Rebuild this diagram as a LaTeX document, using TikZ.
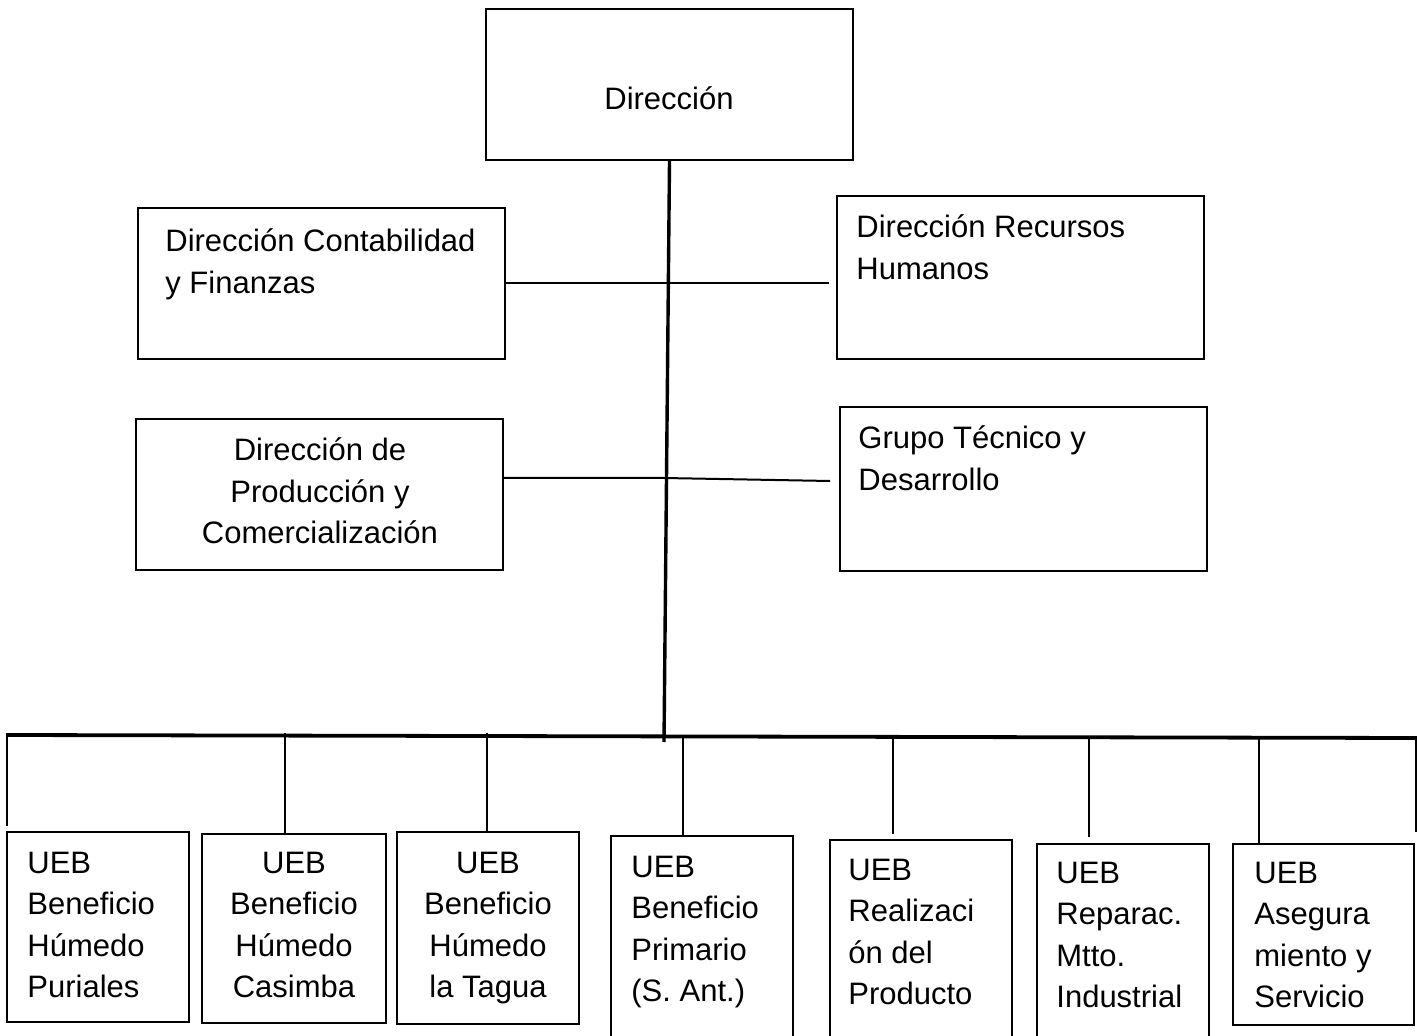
\documentclass[tikz,border=0pt]{standalone}
\usepackage{fontspec}
\setmainfont{Liberation Sans}
\usetikzlibrary{fit}
\begin{document}
\begin{tikzpicture}[x=0.5pt,y=-0.5pt,
  box/.style={draw, line width=1pt, inner sep=0pt},
  txt/.style={inner sep=0pt, font=\fontsize{15.5}{20.75}\selectfont},
  conn/.style={line width=1pt},
  trunkline/.style={line width=1.7pt},
  busline/.style={line width=1.9pt}]
\clip (0,0) rectangle (1417,1036);
% boxes
\node[box, fit={(486,9) (853,160)}] (dir) {};
\node[box, fit={(138,208) (505,359)}] (cont) {};
\node[box, fit={(837,196) (1204,359)}] (rec) {};
\node[box, fit={(136,419) (503,570)}] (prod) {};
\node[box, fit={(840,407) (1207,571)}] (grp) {};
\node[box, fit={(7,832) (189,1022)}] (u1) {};
\node[box, fit={(202,834) (386,1023)}] (u2) {};
\node[box, fit={(397,832) (579,1024)}] (u3) {};
\node[box, fit={(611,836) (793,1060)}] (u4) {};
\node[box, fit={(830,840) (1012,1060)}] (u5) {};
\node[box, fit={(1037,844) (1209,1060)}] (u6) {};
\node[box, fit={(1233,844) (1414,1025)}] (u7) {};
% texts
\node[txt, anchor=base] (tdir) at (669,110) {Dirección};
\node[txt, anchor=base west] (tcont) at (165,252) {\parbox[t]{170pt}{Dirección Contabilidad\\y Finanzas}};
\node[txt, anchor=base west] (trec) at (856,238) {\parbox[t]{170pt}{Dirección Recursos\\Humanos}};
\node[txt, anchor=base] (tprod) at (320,461) {\parbox[t]{180pt}{\centering Dirección de\\Producción y\\Comercialización}};
\node[txt, anchor=base west] (tgrp) at (858,449) {\parbox[t]{170pt}{Grupo Técnico y\\Desarrollo}};
\node[txt, anchor=base west] (tu1) at (27,873) {\parbox[t]{80pt}{UEB\\Beneficio\\Húmedo\\Puriales}};
\node[txt, anchor=base] (tu2) at (294,873) {\parbox[t]{80pt}{\centering UEB\\Beneficio\\Húmedo\\Casimba}};
\node[txt, anchor=base] (tu3) at (488,873) {\parbox[t]{80pt}{\centering UEB\\Beneficio\\Húmedo\\la Tagua}};
\node[txt, anchor=base west] (tu4) at (631,877) {\parbox[t]{80pt}{UEB\\Beneficio\\Primario\\(S. Ant.)}};
\node[txt, anchor=base west] (tu5) at (848,880) {\parbox[t]{80pt}{UEB\\Realizaci\\ón del\\Producto}};
\node[txt, anchor=base west] (tu6) at (1056,883) {\parbox[t]{80pt}{UEB\\Reparac.\\Mtto.\\Industrial}};
\node[txt, anchor=base west] (tu7) at (1254,883) {\parbox[t]{80pt}{UEB\\Asegura\\miento y\\Servicio}};
% trunk and bus
\coordinate (trunkend) at (664,742);
\draw[trunkline] (dir.south) -- (trunkend);
\coordinate (busL) at (8,735);
\coordinate (busR) at (1417,738);
\draw[busline] (busL) -- (busR);
% side connectors
\draw[conn, shorten >=3.5pt] (cont.east) -- (cont.east -| rec.west);
\coordinate (pj) at (664,478);
\coordinate (pg) at (830,481);
\draw[conn] (prod.east |- pj) -- (pj) -- (pg);
% drops
\coordinate (d1) at (7,733);
\coordinate (d1e) at (7,826);
\draw[conn] (d1) -- (d1e);
\coordinate (d2) at (285,733);
\draw[conn] (d2) -- (d2 |- u2.north);
\coordinate (d3) at (487,733);
\draw[conn] (d3) -- (d3 |- u3.north);
\coordinate (d4) at (683,737);
\draw[conn] (d4) -- (d4 |- u4.north);
\coordinate (d5) at (893,737);
\draw[conn, shorten >=2.5pt] (d5) -- (d5 |- u5.north);
\coordinate (d6) at (1089,737);
\draw[conn, shorten >=3pt] (d6) -- (d6 |- u6.north);
\coordinate (d7) at (1259,737);
\draw[conn] (d7) -- (d7 |- u7.north);
\coordinate (d8) at (1416,737);
\coordinate (d8e) at (1416,832);
\draw[conn] (d8) -- (d8e);
\end{tikzpicture}
\end{document}
